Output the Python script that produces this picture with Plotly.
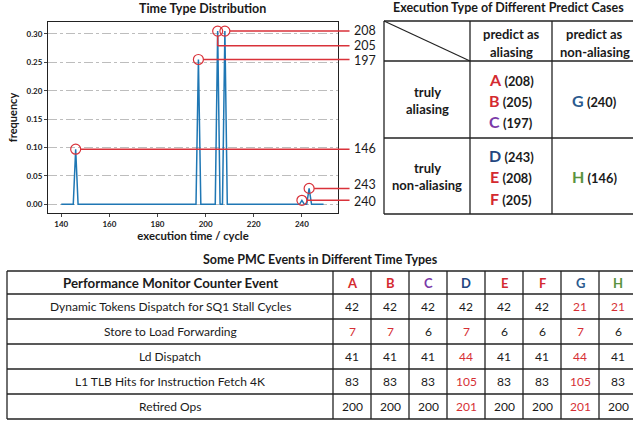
import plotly.graph_objects as go

# ---------------- data ----------------
time_x = [140, 145, 146, 147, 196, 197, 198, 204, 205, 206, 207, 208, 209,
          239, 240, 241, 242, 243, 244, 249]
freq_y = [0, 0, 0.097, 0, 0, 0.255, 0, 0, 0.305, 0, 0, 0.305, 0,
          0, 0.007, 0, 0, 0.028, 0, 0]

peak_times = [208, 205, 197, 146, 243, 240]
peak_freqs = [0.305, 0.305, 0.255, 0.097, 0.028, 0.007]
leader_freqs = [0.305, 0.279, 0.255, 0.097, 0.028, 0.007]   # height of each leader line
text_freqs = [0.306, 0.279, 0.253, 0.099, 0.035, 0.005]     # height of each label
peak_labels = ["208", "205", "197", "146", "243", "240"]

y_ticks = [0.00, 0.05, 0.10, 0.15, 0.20, 0.25, 0.30]
x_ticks = [140, 160, 180, 200, 220, 240]

predict_headers = [["predict as", "aliasing"], ["predict as", "non-aliasing"]]
truth_rows = [["truly", "aliasing"], ["truly", "non-aliasing"]]
case_letters = ["A", "B", "C", "D", "E", "F", "G", "H"]
case_times = [208, 205, 197, 243, 208, 205, 240, 146]
case_truth = [0, 0, 0, 1, 1, 1, 0, 1]      # 0 = truly aliasing, 1 = truly non-aliasing
case_predict = [0, 0, 0, 0, 0, 0, 1, 1]    # 0 = predict aliasing, 1 = predict non-aliasing

pmc_header = "Performance Monitor Counter Event"
pmc_events = ["Dynamic Tokens Dispatch for SQ1 Stall Cycles",
              "Store to Load Forwarding",
              "Ld Dispatch",
              "L1 TLB Hits for Instruction Fetch 4K",
              "Retired Ops"]
dyn_tokens = [42, 42, 42, 42, 42, 42, 21, 21]
store_load = [7, 7, 6, 7, 6, 6, 7, 6]
ld_dispatch = [41, 41, 41, 44, 41, 41, 44, 41]
l1_tlb = [83, 83, 83, 105, 83, 83, 105, 83]
retired_ops = [200, 200, 200, 201, 200, 200, 201, 200]
highlight = [[0, 0, 0, 0, 0, 0, 1, 1],
             [1, 1, 0, 1, 0, 0, 1, 0],
             [0, 0, 0, 1, 0, 0, 1, 0],
             [0, 0, 0, 1, 0, 0, 1, 0],
             [0, 0, 0, 1, 0, 0, 1, 0]]

# ---------------- styles ----------------
W, H = 633, 423
FONT = "Lato"
TXT = "#1a1a1a"
RED = "#d62f35"
BLUE_LINE = "#1f77b4"
LEAD = "#d9323a"
BORDER = "#222222"
case_colors = {"A": "#d42a30", "B": "#d42a30", "C": "#7a3aa8", "D": "#24467f",
               "E": "#d42a30", "F": "#d42a30", "G": "#2b5a8e", "H": "#5a9440"}
X_MIN, X_MAX = 134.5, 255
LEADER_END = 260.0   # data-x where leader lines stop (outside plot, right)
LABEL_PX = 352       # left edge of the right-hand labels (px)


def px_x(p):
    return p / W


def px_y(p):
    return 1 - p / H


fig = go.Figure()

# ---------------- line chart ----------------
fig.add_trace(go.Scatter(x=time_x, y=freq_y, mode="lines",
                         line=dict(color=BLUE_LINE, width=1.5),
                         hoverinfo="skip", showlegend=False))
fig.add_trace(go.Scatter(x=peak_times, y=peak_freqs, mode="markers",
                         marker=dict(symbol="circle-open", size=10,
                                     color=LEAD, line=dict(width=1.2)),
                         cliponaxis=False, hoverinfo="skip", showlegend=False))

# vertical elbow for label 205
fig.add_shape(type="line", xref="x", yref="y",
              x0=peak_times[1], x1=peak_times[1],
              y0=peak_freqs[1] - 0.009, y1=leader_freqs[1],
              line=dict(color=LEAD, width=1.5))

for t, f, lf, tf, lab in zip(peak_times, peak_freqs, leader_freqs, text_freqs, peak_labels):
    elbow = abs(lf - f) > 1e-9
    # leader line (arrow without head)
    fig.add_annotation(x=t, y=lf, xref="x", yref="y",
                       ax=LEADER_END, ay=lf, axref="x", ayref="y",
                       text=" ", showarrow=True, arrowhead=0,
                       arrowwidth=1.5, arrowcolor=LEAD,
                       standoff=0 if elbow else 5, borderpad=0,
                       font=dict(family=FONT, size=1, color=TXT))
    # label
    fig.add_annotation(x=px_x(LABEL_PX), y=tf, xref="paper", yref="y",
                       text=lab, showarrow=False, xanchor="left", yanchor="middle",
                       font=dict(family=FONT, size=12.5, color=TXT))

fig.update_layout(
    xaxis=dict(domain=[px_x(48), px_x(338)], range=[X_MIN, X_MAX],
               tickvals=x_ticks, ticks="outside", ticklen=3, tickwidth=1,
               showgrid=False, zeroline=False, showline=True, mirror=True,
               linecolor="#222", linewidth=1, anchor="y",
               tickfont=dict(family=FONT, size=8, weight="bold", color=TXT),
               title=dict(text="execution time / cycle", standoff=4,
                          font=dict(family=FONT, size=11.3, weight="bold", color=TXT))),
    yaxis=dict(domain=[px_y(213), px_y(22)], range=[-0.0153, 0.321],
               tickvals=y_ticks, tickformat=".2f", ticks="outside", ticklen=3,
               tickwidth=1, showgrid=True, gridcolor="#bdbdbd", griddash="dashdot",
               gridwidth=0.8, zeroline=False, showline=True, mirror=True,
               linecolor="#222", linewidth=1, anchor="x",
               tickfont=dict(family=FONT, size=8, weight="bold", color=TXT),
               title=dict(text="frequency", standoff=6,
                          font=dict(family=FONT, size=11, weight="bold", color=TXT))),
)


# ---------------- helpers for the tables ----------------
def edges(sizes):
    out = [0]
    for s in sizes:
        out.append(out[-1] + s)
    return out


def draw_grid(xr, yr, xe, ye, vlines=None):
    for y in ye:
        fig.add_shape(type="line", xref=xr, yref=yr, x0=xe[0], x1=xe[-1], y0=y, y1=y,
                      line=dict(color=BORDER, width=1.3))
    for x in (vlines if vlines is not None else xe):
        fig.add_shape(type="line", xref=xr, yref=yr, x0=x, x1=x, y0=ye[0], y1=ye[-1],
                      line=dict(color=BORDER, width=1.3))


def cell_text(xr, yr, x, y, lines, spacing, size, bold=False, color=TXT):
    n = len(lines)
    for i, ln in enumerate(lines):
        txt = "<b>%s</b>" % ln if bold else ln
        fig.add_annotation(x=x, y=y + (i - (n - 1) / 2) * spacing, xref=xr, yref=yr,
                           text=txt, showarrow=False, xanchor="center", yanchor="middle",
                           font=dict(family=FONT, size=size, color=color))


# ---------------- top-right table (axes x2/y2, units = px) ----------------
t1_cols = [86, 82, 85]
t1_rows = [40, 77, 76]
t1_xe, t1_ye = edges(t1_cols), edges(t1_rows)
fig.add_trace(go.Scatter(x=[], y=[], xaxis="x2", yaxis="y2", showlegend=False))
fig.update_layout(
    xaxis2=dict(domain=[px_x(382), 1], range=[-2, 249], visible=False, anchor="y2"),
    yaxis2=dict(domain=[px_y(217), px_y(19)], range=[196, -2], visible=False, anchor="x2"),
)
draw_grid("x2", "y2", t1_xe, t1_ye, vlines=t1_xe[:-1])
fig.add_shape(type="line", xref="x2", yref="y2", x0=t1_xe[0], y0=t1_ye[0],
              x1=t1_xe[1], y1=t1_ye[1], line=dict(color=BORDER, width=1.2))

cx = [(t1_xe[i] + t1_xe[i + 1]) / 2 for i in range(3)]
cy = [(t1_ye[i] + t1_ye[i + 1]) / 2 for i in range(3)]
for j, hl in enumerate(predict_headers):
    cell_text("x2", "y2", cx[j + 1], cy[0] + 2, hl, 18, 13, bold=True)
for r, rl in enumerate(truth_rows):
    cell_text("x2", "y2", cx[0], cy[r + 1] + 1, rl, 17, 13, bold=True)

groups = {}
for L, t, r, c in zip(case_letters, case_times, case_truth, case_predict):
    groups.setdefault((r, c), []).append(
        "<span style='color:%s;font-size:16px'><b>%s</b></span> <b>(%d)</b>"
        % (case_colors[L], L, t))
for (r, c), items in groups.items():
    cell_text("x2", "y2", cx[c + 1], cy[r + 1] + 1, items, 21.3, 12.8)

# ---------------- bottom table (axes x3/y3, units = px) ----------------
t2_cols = [326] + [38] * 8
t2_rows = [23, 25, 25, 25, 25, 25]
t2_xe, t2_ye = edges(t2_cols), edges(t2_rows)
fig.add_trace(go.Scatter(x=[], y=[], xaxis="x3", yaxis="y3", showlegend=False))
fig.update_layout(
    xaxis3=dict(domain=[px_x(5), 1], range=[-2, 626], visible=False, anchor="y3"),
    yaxis3=dict(domain=[px_y(421), px_y(269)], range=[150, -2], visible=False, anchor="x3"),
)
draw_grid("x3", "y3", t2_xe, t2_ye)
bx = [(t2_xe[i] + t2_xe[i + 1]) / 2 for i in range(len(t2_cols))]
by = [(t2_ye[i] + t2_ye[i + 1]) / 2 for i in range(len(t2_rows))]

cell_text("x3", "y3", bx[0], by[0], [pmc_header], 0, 13.3, bold=True)
for j, L in enumerate(case_letters):
    cell_text("x3", "y3", bx[j + 1], by[0], [L], 0, 13, bold=True, color=case_colors[L])

pmc_rows = [dyn_tokens, store_load, ld_dispatch, l1_tlb, retired_ops]
for i, (ev, row) in enumerate(zip(pmc_events, pmc_rows)):
    cell_text("x3", "y3", bx[0], by[i + 1], [ev], 0, 12)
    for j, v in enumerate(row):
        cell_text("x3", "y3", bx[j + 1], by[i + 1], [str(v)], 0, 12,
                  color=RED if highlight[i][j] else TXT)

# ---------------- titles ----------------
titles = [("Time Type Distribution", 202, 8),
          ("Execution Type of Different Predict Cases", 508, 7),
          ("Some PMC Events in Different Time Types", 320, 259)]
for txt, xc, yc in titles:
    fig.add_annotation(x=px_x(xc), y=px_y(yc), xref="paper", yref="paper",
                       text="<b>%s</b>" % txt, showarrow=False,
                       xanchor="center", yanchor="middle",
                       font=dict(family=FONT, size=12.5, color=TXT))

fig.update_layout(width=W, height=H, margin=dict(l=0, r=0, t=0, b=0),
                  autosize=False, paper_bgcolor="white", plot_bgcolor="white",
                  showlegend=False)

fig.write_html("out.html", config={"displayModeBar": False},
               post_script="document.body.style.margin='0px';")
